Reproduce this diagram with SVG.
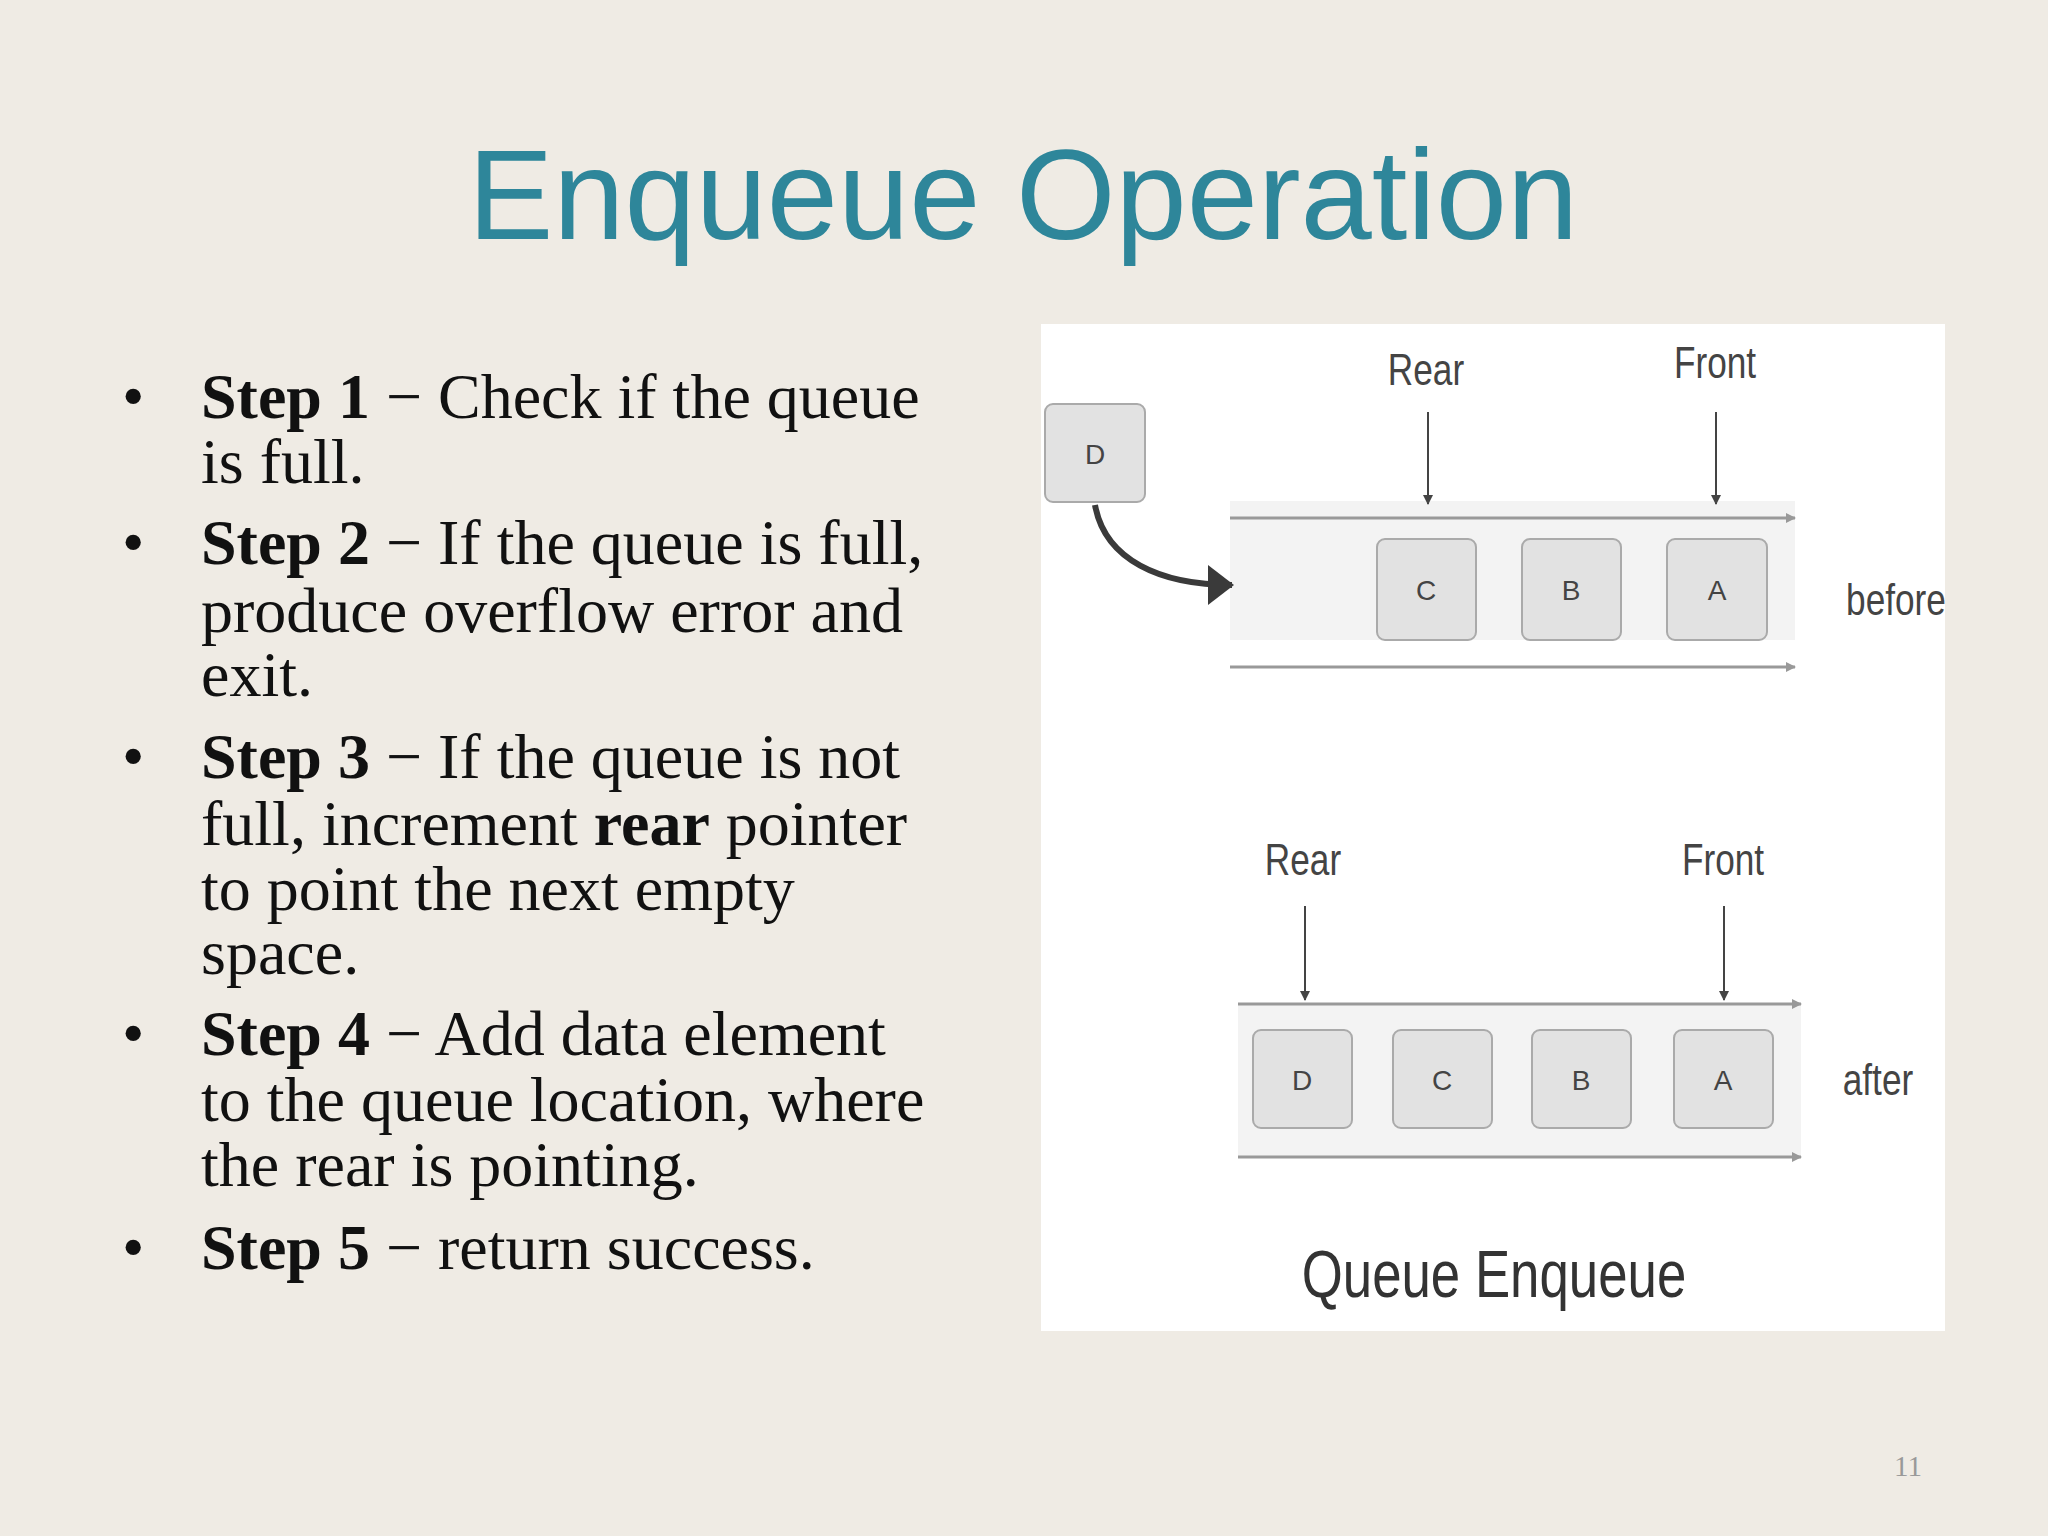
<svg xmlns="http://www.w3.org/2000/svg" width="2048" height="1536" viewBox="0 0 2048 1536">
<style>
.b{font-family:"Liberation Serif",serif;font-size:64px;fill:#111}
.d{font-family:"Liberation Sans",sans-serif;fill:#444}
.box{fill:#e2e2e2;stroke:#aaa;stroke-width:2}
.bar{fill:#f3f3f3}
.ln{stroke:#999;stroke-width:3;fill:none}
.ar{stroke:#444;stroke-width:2;fill:none}
</style>
<defs>
<marker id="g" markerWidth="10" markerHeight="10" refX="9" refY="5" orient="auto" markerUnits="userSpaceOnUse"><path d="M0,0 L10,5 L0,10 Z" fill="#999"/></marker>
<marker id="k" markerWidth="10" markerHeight="14" refX="9" refY="7" orient="auto" markerUnits="userSpaceOnUse"><path d="M0,2 L10,7 L0,12 Z" fill="#444" transform="rotate(0)"/></marker>
<marker id="big" markerWidth="26" markerHeight="40" refX="24" refY="20" orient="auto" markerUnits="userSpaceOnUse"><path d="M0,0 L26,20 L0,40 Z" fill="#3a3a3a"/></marker>
</defs>
<rect width="2048" height="1536" fill="#efebe4"/>
<text x="1023" y="239" text-anchor="middle" font-family="Liberation Sans,sans-serif" font-size="128" fill="#2e869a">Enqueue Operation</text>
<g id="bullets" class="b">
<text x="122" y="418">•</text><text x="122" y="564">•</text><text x="122" y="778">•</text><text x="122" y="1055">•</text><text x="122" y="1269">•</text>
<text x="201" y="418"><tspan font-weight="bold">Step 1</tspan> − Check if the queue</text>
<text x="201" y="483">is full.</text>
<text x="201" y="564"><tspan font-weight="bold">Step 2</tspan> − If the queue is full,</text>
<text x="201" y="632">produce overflow error and</text>
<text x="201" y="696">exit.</text>
<text x="201" y="778"><tspan font-weight="bold">Step 3</tspan> − If the queue is not</text>
<text x="201" y="845">full, increment <tspan font-weight="bold">rear</tspan> pointer</text>
<text x="201" y="910">to point the next empty</text>
<text x="201" y="974">space.</text>
<text x="201" y="1055"><tspan font-weight="bold">Step 4</tspan> − Add data element</text>
<text x="201" y="1121">to the queue location, where</text>
<text x="201" y="1186">the rear is pointing.</text>
<text x="201" y="1269"><tspan font-weight="bold">Step 5</tspan> − return success.</text>
</g>
<rect x="1041" y="324" width="904" height="1007" fill="#fff"/>
<g id="before">
<rect class="bar" x="1230" y="501" width="565" height="139"/>
<line class="ln" x1="1230" y1="518" x2="1795" y2="518" marker-end="url(#g)"/>
<line class="ln" x1="1230" y1="667" x2="1795" y2="667" marker-end="url(#g)"/>
</g>
<g id="after">
<rect class="bar" x="1238" y="1004" width="563" height="153"/>
<line class="ln" x1="1238" y1="1004" x2="1801" y2="1004" marker-end="url(#g)"/>
<line class="ln" x1="1238" y1="1157" x2="1801" y2="1157" marker-end="url(#g)"/>
</g>
<g id="nodeD0"><rect class="box" x="1045" y="404" width="100" height="98" rx="8"/><text class="d" x="1095" y="464" text-anchor="middle" font-size="28">D</text></g>
<g id="nodeC0"><rect class="box" x="1377" y="539" width="99" height="101" rx="8"/><text class="d" x="1426" y="600" text-anchor="middle" font-size="28">C</text></g>
<g id="nodeB0"><rect class="box" x="1522" y="539" width="99" height="101" rx="8"/><text class="d" x="1571" y="600" text-anchor="middle" font-size="28">B</text></g>
<g id="nodeA0"><rect class="box" x="1667" y="539" width="100" height="101" rx="8"/><text class="d" x="1717" y="600" text-anchor="middle" font-size="28">A</text></g>
<g id="nodeD1"><rect class="box" x="1253" y="1030" width="99" height="98" rx="8"/><text class="d" x="1302" y="1090" text-anchor="middle" font-size="28">D</text></g>
<g id="nodeC1"><rect class="box" x="1393" y="1030" width="99" height="98" rx="8"/><text class="d" x="1442" y="1090" text-anchor="middle" font-size="28">C</text></g>
<g id="nodeB1"><rect class="box" x="1532" y="1030" width="99" height="98" rx="8"/><text class="d" x="1581" y="1090" text-anchor="middle" font-size="28">B</text></g>
<g id="nodeA1"><rect class="box" x="1674" y="1030" width="99" height="98" rx="8"/><text class="d" x="1723" y="1090" text-anchor="middle" font-size="28">A</text></g>
<g id="labels" class="d">
<text x="1426" y="385" text-anchor="middle" font-size="44" transform="translate(1426 0) scale(0.8 1) translate(-1426 0)">Rear</text>
<text x="1715" y="378" text-anchor="middle" font-size="44" transform="translate(1715 0) scale(0.8 1) translate(-1715 0)">Front</text>
<text x="1896" y="615" text-anchor="middle" font-size="44" transform="translate(1896 0) scale(0.8 1) translate(-1896 0)">before</text>
<text x="1303" y="875" text-anchor="middle" font-size="44" transform="translate(1303 0) scale(0.8 1) translate(-1303 0)">Rear</text>
<text x="1723" y="875" text-anchor="middle" font-size="44" transform="translate(1723 0) scale(0.8 1) translate(-1723 0)">Front</text>
<text x="1878" y="1095" text-anchor="middle" font-size="44" transform="translate(1878 0) scale(0.8 1) translate(-1878 0)">after</text>
<text x="1494" y="1297" text-anchor="middle" font-size="66" fill="#333" transform="translate(1494 0) scale(0.8 1) translate(-1494 0)">Queue Enqueue</text>
</g>
<g id="connectors">
<line class="ar" x1="1428" y1="412" x2="1428" y2="504" marker-end="url(#k)"/>
<line class="ar" x1="1716" y1="412" x2="1716" y2="504" marker-end="url(#k)"/>
<line class="ar" x1="1305" y1="906" x2="1305" y2="1000" marker-end="url(#k)"/>
<line class="ar" x1="1724" y1="906" x2="1724" y2="1000" marker-end="url(#k)"/>
<path d="M1095,505 C1105,560 1160,585 1232,585" stroke="#3a3a3a" stroke-width="6" fill="none" marker-end="url(#big)"/>
</g>
<text x="1908" y="1476" text-anchor="middle" font-family="Liberation Serif,serif" font-size="29" fill="#999">11</text>
</svg>
